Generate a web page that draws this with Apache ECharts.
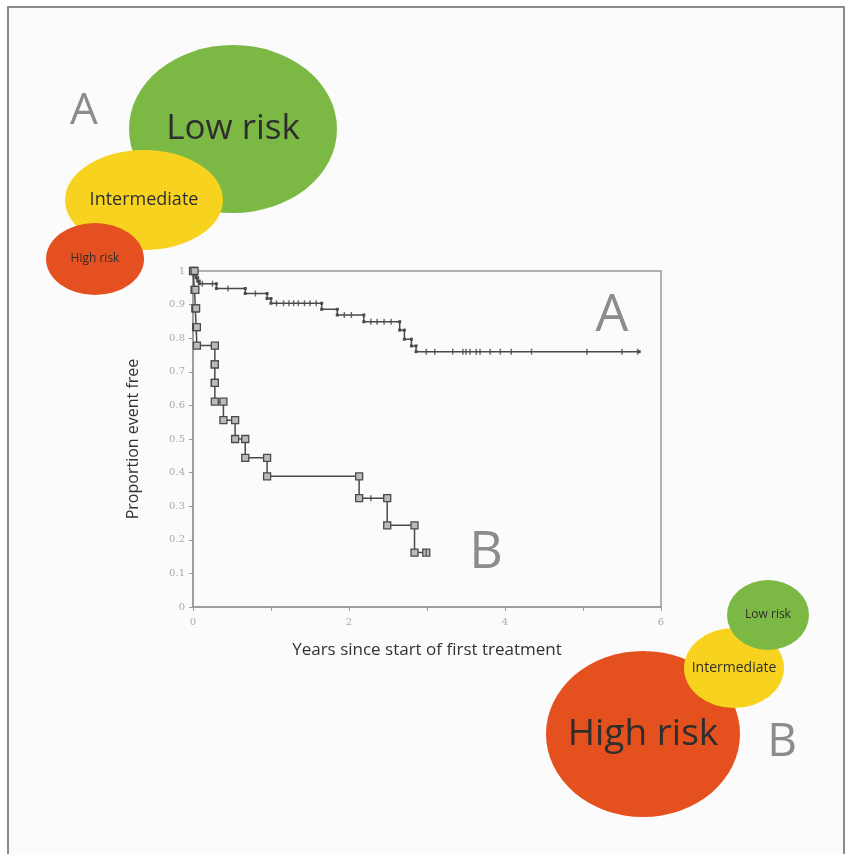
<!DOCTYPE html>
<html>
<head>
<meta charset="utf-8">
<script src="https://cdn.jsdelivr.net/npm/echarts@6/dist/echarts.min.js"></script>
<style>
  html, body { margin: 0; padding: 0; background: #fff; overflow: hidden; }
  #wrap { position: relative; width: 850px; height: 854px; }
  #frame { position: absolute; left: 7px; top: 6px; width: 834px; height: 900px;
    border: 2px solid #8a8a8a; background: #fbfbfb; }
  #chart { position: absolute; left: 0; top: 0; width: 850px; height: 854px; }
</style>
</head>
<body>
<div id="wrap"><div id="frame"></div><div id="chart"></div></div>
<script>
// group A (low/intermediate risk) - event times and survival after each event
const aTime = [0.02, 0.04, 0.06, 0.08, 0.30, 0.67, 0.95, 1.00, 1.65, 1.85, 2.19, 2.65, 2.71, 2.80, 2.86]
const aSurv = [0.99, 0.98, 0.97, 0.962, 0.948, 0.933, 0.918, 0.904, 0.886, 0.869, 0.849, 0.824, 0.797, 0.777, 0.760]
const aEnd = 5.72
const aCensor = [0.12, 0.25, 0.45, 0.80, 1.07, 1.16, 1.23, 1.29, 1.35, 1.43, 1.50, 1.58, 1.94, 2.03,
  2.28, 2.36, 2.45, 2.54, 2.99, 3.10, 3.33, 3.46, 3.50, 3.55, 3.63, 3.68, 3.81, 3.94, 4.08, 4.34, 5.05, 5.50, 5.70]

// group B (high risk)
const bTime = [0.02, 0.03, 0.04, 0.05, 0.28, 0.28, 0.28, 0.39, 0.54, 0.67, 0.95, 2.13, 2.49, 2.84]
const bSurv = [0.944, 0.889, 0.833, 0.778, 0.722, 0.667, 0.611, 0.556, 0.5, 0.444, 0.389, 0.324, 0.243, 0.162]
const bEnd = 2.99
const bCensor = [2.28, 2.99]

const yTicks = [0, 0.1, 0.2, 0.3, 0.4, 0.5, 0.6, 0.7, 0.8, 0.9, 1]
const xLabelled = [0, 2, 4, 6]

// risk bubbles: [label, cx, cy, rx, ry, colour, fontSize]
const bubblesA = [
  ['Low risk', 233, 129, 104, 84, '#7cb944', 35],
  ['Intermediate', 144, 200, 79, 50, '#f7d31f', 18],
  ['High risk', 95, 259, 49, 36, '#e4501f', 12],
]
const bubblesB = [
  ['High risk', 643, 734, 97, 83, '#e5501f', 37],
  ['Intermediate', 734, 668, 50, 40, '#f7d31f', 14],
  ['Low risk', 768, 615, 41, 35, '#7cb944', 12],
]

function stepPath(times, surv, end) {
  const pts = [[0, 1]]
  let prev = 1
  times.forEach((t, i) => {
    pts.push([t, prev])
    pts.push([t, surv[i]])
    prev = surv[i]
  })
  pts.push([end, prev])
  return pts
}

function survAt(times, surv, t) {
  let s = 1
  times.forEach((tt, i) => { if (tt <= t) s = surv[i] })
  return s
}

const chart = echarts.init(document.getElementById('chart'))

const bubbleGraphics = []
;[...bubblesA, ...bubblesB].forEach(b => {
  bubbleGraphics.push({
    type: 'circle', x: b[1], y: b[2], scaleX: b[3] / b[4],
    shape: { cx: 0, cy: 0, r: b[4] },
    style: { fill: b[5] }, z: 10,
  })
  bubbleGraphics.push({
    type: 'text', x: b[1], y: b[2],
    style: {
      text: b[0], fill: '#2e2e2e', font: b[6] + 'px "Open Sans", sans-serif',
      align: 'center', verticalAlign: 'middle',
    }, z: 11,
  })
})

const bigLetter = (txt, x, y, size) => ({
  type: 'text', x, y, z: 12,
  style: { text: txt, fill: '#8c8c8c', font: size + 'px "Open Sans", sans-serif', align: 'center', verticalAlign: 'middle' },
})

chart.setOption({
  animation: false,
  backgroundColor: 'transparent',
  graphic: [
    ...bubbleGraphics,
    bigLetter('A', 84, 111, 44),
    bigLetter('A', 612, 316, 52),
    bigLetter('B', 486, 553, 52),
    bigLetter('B', 782, 743, 46),
  ],
  grid: {
    left: 193, top: 271, right: 189, bottom: 247,
    show: true, borderColor: '#999', borderWidth: 1.5, backgroundColor: 'transparent',
  },
  xAxis: {
    type: 'value', min: 0, max: 6, interval: 1,
    name: 'Years since start of first treatment',
    nameLocation: 'middle', nameGap: 35,
    nameTextStyle: { color: '#333', fontSize: 17, fontFamily: 'Open Sans' },
    axisLine: { lineStyle: { color: '#999', width: 1.5 } },
    axisTick: { show: true, length: 4, lineStyle: { color: '#999' } },
    axisLabel: {
      color: '#aaa', fontSize: 10, margin: 10, fontFamily: 'DejaVu Serif',
      formatter: v => xLabelled.includes(v) ? String(v) : '',
    },
    splitLine: { show: false },
  },
  yAxis: {
    type: 'value', min: 0, max: 1, interval: 0.1,
    name: 'Proportion event free',
    nameLocation: 'middle', nameGap: 52, nameRotate: 90,
    nameTextStyle: { color: '#333', fontSize: 16, fontFamily: 'Open Sans' },
    axisLine: { show: true, lineStyle: { color: '#999', width: 1.5 } },
    axisTick: { show: true, length: 4, lineStyle: { color: '#999' } },
    axisLabel: {
      color: '#aaa', fontSize: 10, margin: 8, fontFamily: 'DejaVu Serif',
      formatter: v => String(yTicks.find(t => Math.abs(t - v) < 1e-6) ?? v),
    },
    splitLine: { show: false },
  },
  series: [
    {
      name: 'A', type: 'line', data: stepPath(aTime, aSurv, aEnd),
      symbol: 'rect', symbolSize: 3, showAllSymbol: true,
      lineStyle: { color: '#4a4a4a', width: 1.5 }, itemStyle: { color: '#4a4a4a' }, z: 3,
    },
    {
      name: 'A censored', type: 'scatter',
      data: aCensor.map(t => [t, survAt(aTime, aSurv, t)]),
      symbol: 'rect', symbolSize: [1.5, 6], itemStyle: { color: '#4a4a4a' }, z: 4,
    },
    {
      name: 'B', type: 'line', data: stepPath(bTime, bSurv, bEnd),
      symbol: 'rect', symbolSize: 7, showAllSymbol: true,
      lineStyle: { color: '#4a4a4a', width: 1.5 },
      itemStyle: { color: '#bbb', borderColor: '#4a4a4a', borderWidth: 1.3 }, z: 3,
    },
    {
      name: 'B censored', type: 'scatter',
      data: bCensor.map(t => [t, survAt(bTime, bSurv, t)]),
      symbol: 'rect', symbolSize: [1.5, 6], itemStyle: { color: '#4a4a4a' }, z: 4,
    },
  ],
})
</script>
</body>
</html>
